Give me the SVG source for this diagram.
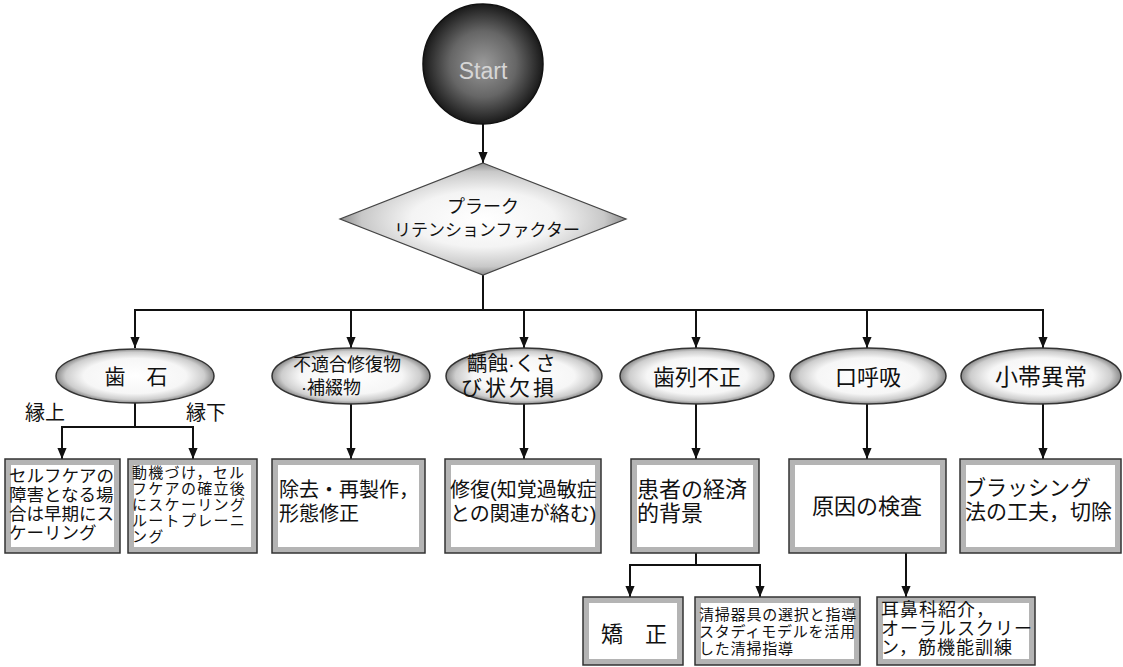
<svg xmlns="http://www.w3.org/2000/svg" width="1123" height="667" viewBox="0 0 1123 667">
<style>
.t{font-family:"Liberation Sans","Noto Sans CJK JP",sans-serif;fill:#111}
.ln{stroke:#111;stroke-width:2;fill:none}
.ar{stroke:#111;stroke-width:2;fill:none;marker-end:url(#ah)}
.ell{fill:url(#eg);stroke:#333;stroke-width:1.5}
.bx{fill:#fff;stroke:#b4b4b4;stroke-width:6}
.bo{fill:none;stroke:#333;stroke-width:1.5}
</style>
<defs>
<marker id="ah" viewBox="0 0 12 10" refX="12" refY="5" markerWidth="11" markerHeight="11" markerUnits="userSpaceOnUse" orient="auto">
<path d="M0,0 L12,5 L0,10 z" fill="#111"/>
</marker>
<radialGradient id="cg" cx="0.5" cy="0.5" r="0.5">
<stop offset="0" stop-color="#9a9a9a"/>
<stop offset="0.55" stop-color="#666"/>
<stop offset="1" stop-color="#1a1a1a"/>
</radialGradient>
<radialGradient id="eg" cx="0.5" cy="0.5" r="0.5">
<stop offset="0" stop-color="#ffffff"/>
<stop offset="0.65" stop-color="#f6f6f6"/>
<stop offset="0.88" stop-color="#cdcdcd"/>
<stop offset="1" stop-color="#8a8a8a"/>
</radialGradient>
<radialGradient id="dg" cx="0.5" cy="0.5" r="0.5">
<stop offset="0" stop-color="#ffffff"/>
<stop offset="0.5" stop-color="#f4f4f4"/>
<stop offset="0.85" stop-color="#c8c8c8"/>
<stop offset="1" stop-color="#8e8e8e"/>
</radialGradient>
</defs>
<rect width="1123" height="667" fill="#fff"/>

<g id="connectors">
<path class="ar" d="M483,124 V163"/>
<path class="ln" d="M483,275 V310"/>
<path class="ln" d="M134,310 H1044"/>
<path class="ar" d="M135,310 V348"/>
<path class="ar" d="M351,310 V348"/>
<path class="ar" d="M524,310 V348"/>
<path class="ar" d="M696,310 V348"/>
<path class="ar" d="M867,310 V348"/>
<path class="ar" d="M1043,310 V348"/>
<path class="ln" d="M135,403 V427"/>
<path class="ln" d="M61,427 H194"/>
<path class="ar" d="M62,427 V459"/>
<path class="ar" d="M193,427 V459"/>
<path class="ar" d="M351,404 V459"/>
<path class="ar" d="M524,404 V459"/>
<path class="ar" d="M696,404 V459"/>
<path class="ar" d="M867,404 V459"/>
<path class="ar" d="M1043,404 V459"/>
<path class="ln" d="M696,553 V565"/>
<path class="ln" d="M629,565 H761"/>
<path class="ar" d="M630,565 V597"/>
<path class="ar" d="M760,565 V597"/>
<path class="ar" d="M906,553 V597"/>
</g>

<g id="start">
<circle cx="483" cy="64" r="60" fill="url(#cg)" stroke="#111" stroke-width="1.5"/>
<text x="483" y="79" text-anchor="middle" font-family="Liberation Sans, Arial, sans-serif" font-size="23" fill="#d6d6d6">Start</text>
</g>

<g id="plaque">
<polygon points="483,163 626,219 483,275 340,219" fill="url(#dg)" stroke="#444" stroke-width="1.2"/>
<text class="t" x="483" y="213" text-anchor="middle" font-size="18">プラーク</text>
<text class="t" x="487" y="236" text-anchor="middle" font-size="17">リテンションファクター</text>
</g>

<g id="calculus">
<ellipse class="ell" cx="135" cy="376" rx="79" ry="27"/>
<text class="t" x="136" y="384" text-anchor="middle" font-size="21">歯　石</text>
</g>
<g id="label-supra"><text class="t" x="25" y="420" font-size="20">縁上</text></g>
<g id="label-sub"><text class="t" x="186" y="420" font-size="20">縁下</text></g>

<g id="restoration">
<ellipse class="ell" cx="351" cy="376" rx="79" ry="28"/>
<text class="t" x="293" y="371" font-size="18">不適合修復物</text>
<text class="t" x="301" y="394" font-size="18">·補綴物</text>
</g>

<g id="caries">
<ellipse class="ell" cx="524" cy="376" rx="78" ry="28"/>
<text class="t" x="467" y="371" font-size="20.5">齲蝕·くさ</text>
<text class="t" x="461" y="395" font-size="21" letter-spacing="3">び状欠損</text>
</g>

<g id="malocclusion">
<ellipse class="ell" cx="697" cy="376" rx="77" ry="28"/>
<text class="t" x="697" y="385" text-anchor="middle" font-size="22">歯列不正</text>
</g>

<g id="mouth-breathing">
<ellipse class="ell" cx="868" cy="376" rx="78" ry="28"/>
<text class="t" x="868" y="385" text-anchor="middle" font-size="22">口呼吸</text>
</g>

<g id="frenum">
<ellipse class="ell" cx="1041" cy="376" rx="80" ry="28"/>
<text class="t" x="1041" y="385" text-anchor="middle" font-size="23">小帯異常</text>
</g>

<g id="box-supra">
<rect class="bx" x="8" y="462" width="109" height="88"/>
<rect class="bo" x="5" y="459" width="115" height="94"/>
<text class="t" font-size="17.5"><tspan x="9" y="482">セルフケアの</tspan><tspan x="9" y="501">障害となる場</tspan><tspan x="9" y="520">合は早期にス</tspan><tspan x="9" y="539">ケーリング</tspan></text>
</g>

<g id="box-sub">
<rect class="bx" x="131" y="462" width="123" height="88"/>
<rect class="bo" x="128" y="459" width="129" height="94"/>
<text class="t" font-size="15" letter-spacing="1.3"><tspan x="132" y="478">動機づけ，セル</tspan><tspan x="132" y="494">フケアの確立後</tspan><tspan x="132" y="510">にスケーリング</tspan><tspan x="132" y="526">ルートプレーニ</tspan><tspan x="132" y="542">ング</tspan></text>
</g>

<g id="box-remake">
<rect class="bx" x="275" y="462" width="147" height="88"/>
<rect class="bo" x="272" y="459" width="153" height="94"/>
<text class="t" font-size="20"><tspan x="279" y="497">除去・再製作，</tspan><tspan x="279" y="521">形態修正</tspan></text>
</g>

<g id="box-repair">
<rect class="bx" x="448" y="462" width="150" height="88"/>
<rect class="bo" x="445" y="459" width="156" height="94"/>
<text class="t" font-size="20"><tspan x="450" y="497">修復(知覚過敏症</tspan><tspan x="450" y="521">との関連が絡む)</tspan></text>
</g>

<g id="box-economic">
<rect class="bx" x="634" y="462" width="122" height="88"/>
<rect class="bo" x="631" y="459" width="128" height="94"/>
<text class="t" font-size="22"><tspan x="637" y="497">患者の経済</tspan><tspan x="637" y="521">的背景</tspan></text>
</g>

<g id="box-cause">
<rect class="bx" x="792" y="462" width="151" height="88"/>
<rect class="bo" x="789" y="459" width="157" height="94"/>
<text class="t" x="867" y="514" text-anchor="middle" font-size="22">原因の検査</text>
</g>

<g id="box-brushing">
<rect class="bx" x="963" y="462" width="155" height="88"/>
<rect class="bo" x="960" y="459" width="161" height="94"/>
<text class="t" font-size="21"><tspan x="965" y="495">ブラッシング</tspan><tspan x="965" y="519">法の工夫，切除</tspan></text>
</g>

<g id="box-ortho">
<rect class="bx" x="586" y="600" width="94" height="62"/>
<rect class="bo" x="583" y="597" width="100" height="68"/>
<text class="t" x="601" y="642" font-size="22">矯　正</text>
</g>

<g id="box-cleaning">
<rect class="bx" x="698" y="600" width="159" height="62"/>
<rect class="bo" x="695" y="597" width="165" height="68"/>
<text class="t" font-size="15" letter-spacing="0.8"><tspan x="699" y="620">清掃器具の選択と指導</tspan><tspan x="699" y="637">スタディモデルを活用</tspan><tspan x="699" y="654">した清掃指導</tspan></text>
</g>

<g id="box-ent">
<rect class="bx" x="880" y="600" width="152" height="62"/>
<rect class="bo" x="877" y="597" width="158" height="68"/>
<text class="t" font-size="18" letter-spacing="1"><tspan x="881" y="616">耳鼻科紹介，</tspan><tspan x="881" y="635">オーラルスクリー</tspan><tspan x="881" y="654">ン，筋機能訓練</tspan></text>
</g>
</svg>
